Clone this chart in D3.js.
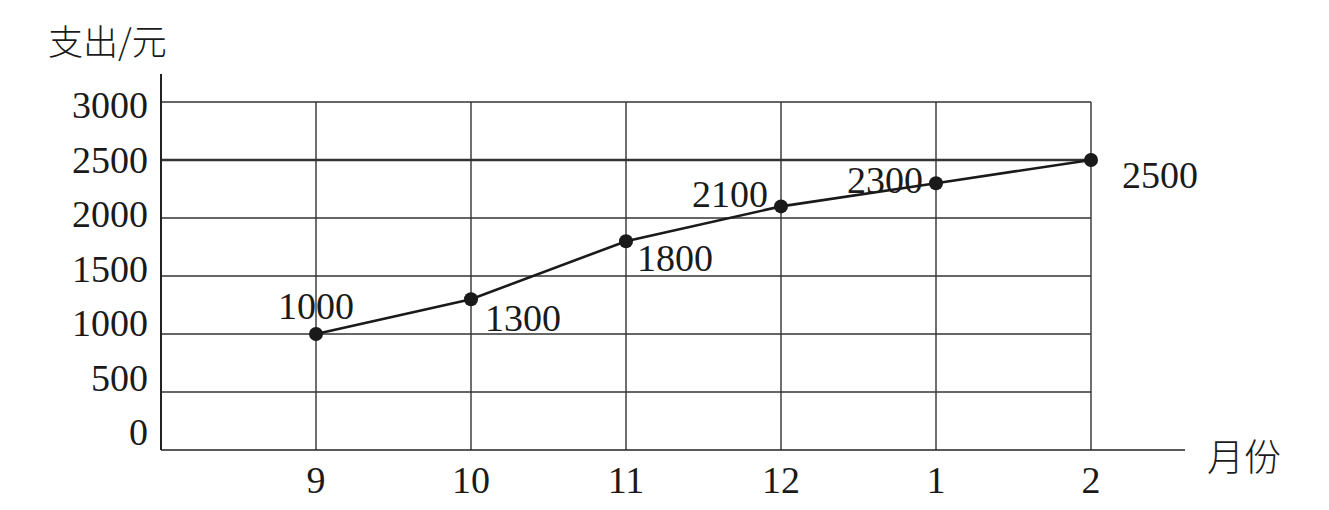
<!DOCTYPE html>
<html><head><meta charset="utf-8">
<script src="https://cdn.jsdelivr.net/npm/d3@7"></script>
<style>
html,body{margin:0;padding:0;background:#fff;}
svg{display:block;}
text{font-family:"Liberation Serif","Times New Roman",serif;fill:#1a1a1a;}
.cjk{font-family:"Noto Sans CJK SC","Noto Serif CJK SC",serif;font-weight:300;}
</style></head>
<body>
<svg id="chart" width="1329" height="510"></svg>
<script>
// ---- data ----
const months = ["9", "10", "11", "12", "1", "2"];
const spending = [1000, 1300, 1800, 2100, 2300, 2500];
const yTicks = [0, 500, 1000, 1500, 2000, 2500, 3000];
const yTitle = "支出/元";
const xTitle = "月份";
// label placement (layout only): offsets from each point
const labelDx = [0, 52, 49, -51, -51, 69];
const labelDy = [-28, 19, 17, -12, -3, 15];

const svg = d3.select("#chart");
const x = d3.scalePoint().domain(months).range([316, 1091]);
const y = d3.scaleLinear().domain([0, 3000]).range([450, 102]);
const yLab = d3.scaleLinear().domain([0, 3000]).range([432, 105]);
const axisLeft = 161, xEnd = 1185, yTop = 74;

// horizontal gridlines
svg.append("g").selectAll("line").data(yTicks.filter(d => d > 0)).join("line")
  .attr("x1", axisLeft).attr("x2", x("2"))
  .attr("y1", d => y(d)).attr("y2", d => y(d))
  .attr("stroke", "#333").attr("stroke-width", d => d === 2500 ? 2.6 : 1.4);

// vertical gridlines
svg.append("g").selectAll("line").data(months).join("line")
  .attr("x1", d => x(d)).attr("x2", d => x(d))
  .attr("y1", y(3000)).attr("y2", y(0))
  .attr("stroke", "#333").attr("stroke-width", 1.4);

// axes
svg.append("line").attr("x1", axisLeft).attr("x2", axisLeft).attr("y1", yTop).attr("y2", y(0))
  .attr("stroke", "#222").attr("stroke-width", 2);
svg.append("line").attr("x1", axisLeft).attr("x2", xEnd).attr("y1", y(0)).attr("y2", y(0))
  .attr("stroke", "#222").attr("stroke-width", 1.6);

// y tick labels
svg.append("g").selectAll("text").data(yTicks).join("text")
  .attr("x", 148).attr("y", d => yLab(d))
  .attr("text-anchor", "end").attr("dominant-baseline", "central")
  .attr("font-size", 38).text(d => d);

// x tick labels
svg.append("g").selectAll("text").data(months).join("text")
  .attr("x", d => x(d)).attr("y", 480)
  .attr("text-anchor", "middle").attr("dominant-baseline", "central")
  .attr("font-size", 38).text(d => d);

// titles
svg.append("text").attr("class", "cjk").attr("x", 48).attr("y", 39)
  .attr("dominant-baseline", "central").attr("font-size", 35).text(yTitle);
svg.append("text").attr("class", "cjk").attr("x", 1207).attr("y", 455)
  .attr("dominant-baseline", "central").attr("font-size", 37).text(xTitle);

// line
const data = months.map((m, i) => ({m, v: spending[i], i}));
svg.append("path").datum(data)
  .attr("d", d3.line().x(d => x(d.m)).y(d => y(d.v)))
  .attr("fill", "none").attr("stroke", "#1a1a1a").attr("stroke-width", 2.6);

svg.append("g").selectAll("circle").data(data).join("circle")
  .attr("cx", d => x(d.m)).attr("cy", d => y(d.v)).attr("r", 7)
  .attr("fill", "#1a1a1a");

svg.append("g").selectAll("text").data(data).join("text")
  .attr("x", d => x(d.m) + labelDx[d.i]).attr("y", d => y(d.v) + labelDy[d.i])
  .attr("text-anchor", "middle").attr("dominant-baseline", "central")
  .attr("font-size", 38).text(d => d.v);
</script>
</body></html>
